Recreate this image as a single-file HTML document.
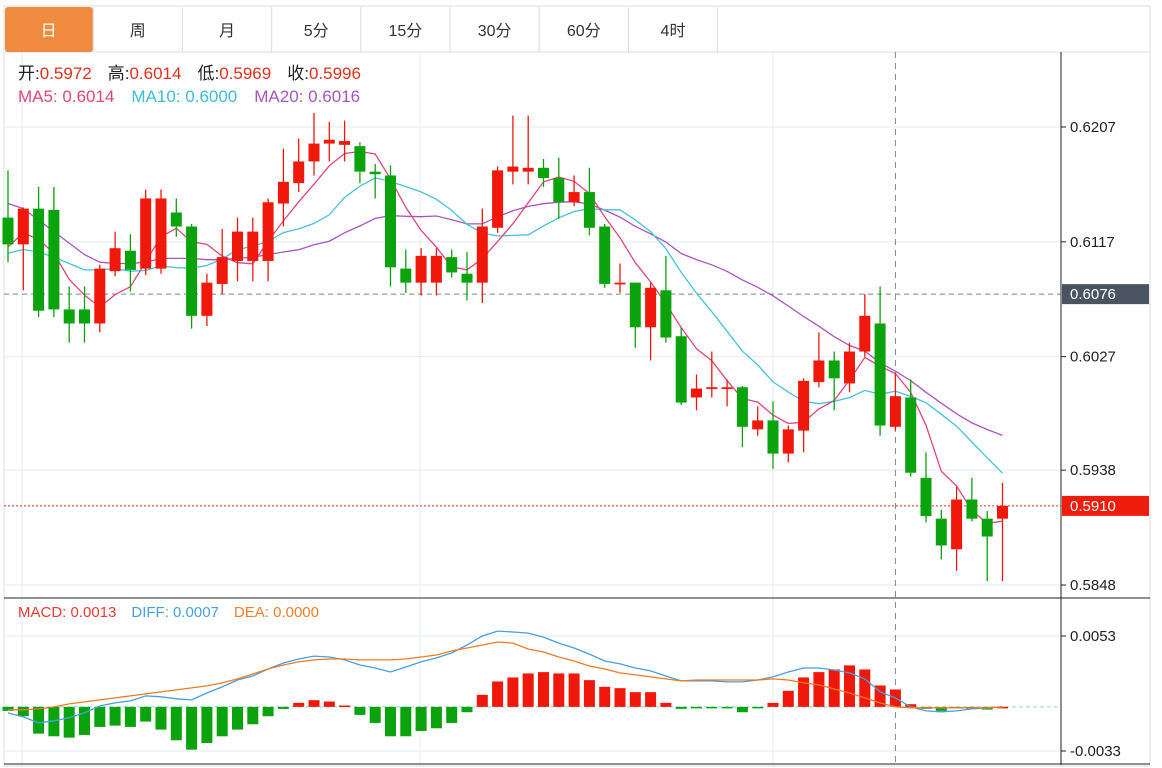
<!DOCTYPE html>
<html><head><meta charset="utf-8">
<style>
html,body{margin:0;padding:0;background:#fff;width:1162px;height:768px;overflow:hidden;}
body{font-family:"Liberation Sans","Noto Sans CJK SC",sans-serif;}
svg{position:absolute;left:0;top:0;}
</style></head>
<body>
<svg id="chart" width="1162" height="768" viewBox="0 0 1162 768">
  <rect x="4" y="6" width="1146" height="760" fill="none" stroke="#dcdcdc"/>
  <line x1="4" y1="52" x2="1150" y2="52" stroke="#dcdcdc"/>
  <g id="tabs"></g>
  <g id="grid"></g>
  <g id="ma"></g>
  <g id="candles"></g>
  <g id="macd"></g>
  <g id="axes"></g>
  <text x="18" y="79" font-size="17"><tspan fill="#222">开:</tspan><tspan fill="#e0301e">0.5972</tspan><tspan fill="#222" dx="16">高:</tspan><tspan fill="#e0301e">0.6014</tspan><tspan fill="#222" dx="16">低:</tspan><tspan fill="#e0301e">0.5969</tspan><tspan fill="#222" dx="16">收:</tspan><tspan fill="#e0301e">0.5996</tspan></text>
  <text x="18" y="102" font-size="17"><tspan fill="#e0457b">MA5: 0.6014</tspan><tspan fill="#40bcd4" dx="17">MA10: 0.6000</tspan><tspan fill="#a855c0" dx="17">MA20: 0.6016</tspan></text>
  <text x="18" y="617" font-size="15"><tspan fill="#e53c2e">MACD: 0.0013</tspan><tspan fill="#4a9ee0" dx="15">DIFF: 0.0007</tspan><tspan fill="#ef7d27" dx="15">DEA: 0.0000</tspan></text>
</svg>
<script>
const opens=[0.6136,0.6115,0.6143,0.6142,0.6064,0.6064,0.6053,0.6094,0.6110,0.6096,0.6096,0.6140,0.6129,0.6059,0.6084,0.6102,0.6102,0.6102,0.6147,0.6163,0.6180,0.6194,0.6193,0.6192,0.6172,0.6169,0.6096,0.6085,0.6085,0.6105,0.6092,0.6085,0.6128,0.6172,0.6172,0.6175,0.6167,0.6148,0.6156,0.6129,0.6084,0.6085,0.6050,0.6079,0.6043,0.5995,0.6002,0.6002,0.6003,0.5970,0.5977,0.5951,0.5969,0.6007,0.6024,0.6006,0.6031,0.6053,0.5972,0.5995,0.5932,0.5900,0.5876,0.5915,0.5900,0.5900];
const highs=[0.6173,0.6144,0.6160,0.6160,0.6082,0.6082,0.6099,0.6125,0.6123,0.6158,0.6158,0.6151,0.6131,0.6092,0.6127,0.6136,0.6136,0.6151,0.6190,0.6198,0.6218,0.6211,0.6212,0.6195,0.6178,0.6177,0.6111,0.6112,0.6112,0.6111,0.6109,0.6143,0.6176,0.6216,0.6216,0.6182,0.6183,0.6169,0.6175,0.6131,0.6100,0.6085,0.6085,0.6106,0.6050,0.6013,0.6031,0.6009,0.6004,0.5988,0.5992,0.5973,0.6010,0.6046,0.6031,0.6038,0.6076,0.6082,0.6014,0.6009,0.5952,0.5907,0.5925,0.5932,0.5906,0.5928];
const lows=[0.6101,0.6079,0.6058,0.6058,0.6038,0.6038,0.6046,0.6090,0.6078,0.6091,0.6092,0.6121,0.6049,0.6051,0.6076,0.6086,0.6086,0.6086,0.6129,0.6156,0.6169,0.6180,0.6180,0.6163,0.6151,0.6082,0.6077,0.6075,0.6075,0.6089,0.6071,0.6069,0.6124,0.6162,0.6162,0.6160,0.6135,0.6145,0.6122,0.6081,0.6077,0.6034,0.6024,0.6038,0.5989,0.5985,0.5995,0.5988,0.5956,0.5965,0.5939,0.5944,0.5952,0.6003,0.5985,0.5999,0.6027,0.5965,0.5969,0.5933,0.5897,0.5868,0.5859,0.5898,0.5851,0.5851];
const closes=[0.6115,0.6143,0.6063,0.6064,0.6053,0.6053,0.6096,0.6112,0.6095,0.6151,0.6151,0.6129,0.6059,0.6085,0.6105,0.6125,0.6125,0.6148,0.6164,0.6180,0.6194,0.6197,0.6196,0.6172,0.6170,0.6097,0.6085,0.6106,0.6106,0.6093,0.6085,0.6129,0.6173,0.6176,0.6175,0.6167,0.6148,0.6156,0.6128,0.6084,0.6085,0.6050,0.6081,0.6042,0.5991,0.6002,0.6003,0.6003,0.5972,0.5977,0.5951,0.5970,0.6008,0.6024,0.6010,0.6031,0.6059,0.5973,0.5996,0.5936,0.5902,0.5879,0.5915,0.5900,0.5886,0.5910];
const ma5Head=[0.6113,0.6124,0.6119,0.6108];
const ma10Head=[0.6108,0.6111,0.6109,0.6105,0.6100,0.6095,0.6095,0.6096,0.6094];
const ma20Head=[0.6147,0.6143,0.6134,0.6125,0.6116,0.6107,0.6101,0.6100,0.6100,0.6101,0.6104,0.6104,0.6104,0.6103,0.6103,0.6104,0.6105,0.6107,0.6109];
const macdHist=[-0.0003,-0.0007,-0.0020,-0.0022,-0.0023,-0.0021,-0.0015,-0.0014,-0.0015,-0.0011,-0.0017,-0.0025,-0.0032,-0.0027,-0.0022,-0.0017,-0.0013,-0.0007,-0.00015,0.0003,0.0005,0.0004,0.0001,-0.0006,-0.0012,-0.0022,-0.0022,-0.0018,-0.0016,-0.0012,-0.0004,0.0009,0.0019,0.0022,0.0025,0.0026,0.0025,0.0025,0.0020,0.0015,0.0014,0.0011,0.0011,0.0003,-0.00015,-0.0001,-0.0001,-0.0001,-0.0004,-0.00004,0.0003,0.0012,0.0022,0.0026,0.0028,0.0031,0.0028,0.0016,0.0013,0.0002,-0.00015,-0.0003,-0.0001,-0.00015,-0.0002,0];
const diffVals=[-0.00045,-0.00075,-0.0012,-0.00104,-0.00082,-0.00045,0.00007,0.0003,0.00045,0.00082,0.00075,0.0006,0.00052,0.00104,0.00149,0.00201,0.00231,0.00283,0.00328,0.00358,0.0038,0.00373,0.00351,0.00313,0.00291,0.00261,0.00298,0.00336,0.00366,0.00403,0.00463,0.0053,0.00567,0.0056,0.00552,0.00522,0.00477,0.0044,0.00395,0.00343,0.00321,0.00291,0.00269,0.00231,0.00194,0.00194,0.00194,0.00187,0.00187,0.00201,0.00224,0.00261,0.00291,0.00291,0.00276,0.00254,0.00209,0.00112,0.00067,0,-0.0003,-0.00037,-0.0003,-0.00015,-0.00007,0];
const deaVals=[-0.00022,-0.00022,-0.00015,0,0.00022,0.00037,0.00052,0.00067,0.00082,0.00097,0.00112,0.00127,0.00142,0.00157,0.00179,0.00209,0.00246,0.00283,0.00313,0.00336,0.00351,0.00358,0.00358,0.00351,0.00351,0.00351,0.00358,0.00373,0.00388,0.00418,0.0044,0.00463,0.00485,0.00477,0.00433,0.0041,0.00373,0.00343,0.00306,0.00283,0.00254,0.00239,0.00224,0.00209,0.00194,0.00201,0.00201,0.00201,0.00201,0.00201,0.00209,0.00201,0.00179,0.00164,0.00134,0.00104,0.00067,0.0003,0,-0.00007,-0.00007,-0.00007,-0.00007,-0.00007,-0.00007,0];
const priceTicks=["0.6207","0.6117","0.6027","0.5938","0.5848"];
const macdTicks=["0.0053","-0.0033"];
const tabLabels=["日","周","月","5分","15分","30分","60分","4时"];
const lastPrice=0.5910, crossPrice=0.6076, crossIndex=58;

const NS="http://www.w3.org/2000/svg";
function mk(tag,attrs,parent){const e=document.createElementNS(NS,tag);for(const k in attrs)e.setAttribute(k,attrs[k]);parent.appendChild(e);return e;}
const RED="#f0180a",GREEN="#0aa30e";
const xOf=i=>8+i*15.3;
const pTop=+priceTicks[0],pBot=+priceTicks[priceTicks.length-1];
const yP=p=>127+(pTop-p)/(pTop-pBot)*458;
const mTop=+macdTicks[0],mBot=+macdTicks[1];
const yM=v=>636+(mTop-v)/(mTop-mBot)*115;

const tabs=document.getElementById('tabs');
tabLabels.forEach((t,i)=>{
  const x=4+i*89.2;
  const g=mk('g',{},tabs);
  
  
  if(i===0){mk('rect',{x:x+1,y:7,width:88,height:45,rx:3,fill:"#f08a3e"},g);}
  mk('line',{x1:x+89.2,y1:7,x2:x+89.2,y2:52,stroke:"#dcdcdc"},g);
  const tx=mk('text',{x:x+44.6,y:36,'font-size':16,'text-anchor':'middle',fill:i===0?"#fff":"#333"},g);
  tx.textContent=t;
});

const grid=document.getElementById('grid');
priceTicks.forEach(t=>{mk('line',{x1:4,x2:1061,y1:yP(+t),y2:yP(+t),stroke:"#e4ebf2"},grid);});
macdTicks.forEach(t=>{mk('line',{x1:4,x2:1061,y1:yM(+t),y2:yM(+t),stroke:"#e4ebf2"},grid);});
[22,420,773].forEach(x=>{mk('line',{x1:x,x2:x,y1:52,y2:764,stroke:"#e4ebf2"},grid);});
mk('line',{x1:4,x2:1061,y1:yP(crossPrice),y2:yP(crossPrice),stroke:"#7a8490","stroke-dasharray":"5,4"},grid);
mk('line',{x1:4,x2:1061,y1:yP(lastPrice),y2:yP(lastPrice),stroke:"#e0301e","stroke-dasharray":"2,2"},grid);
mk('line',{x1:4,x2:1061,y1:yM(0),y2:yM(0),stroke:"#8fd0ea","stroke-dasharray":"4,3"},grid);
mk('line',{x1:xOf(crossIndex),x2:xOf(crossIndex),y1:52,y2:764,stroke:"#7a8490","stroke-dasharray":"6,5"},grid);

function ma(n,head){return closes.map((c,i)=>{if(i<n-1)return head[i];let s=0;for(let k=i-n+1;k<=i;k++)s+=closes[k];return s/n;});}
const maG=document.getElementById('ma');
[[ma(20,ma20Head),"#a855c0",'ma20-line'],[ma(10,ma10Head),"#45c2d9",'ma10-line'],[ma(5,ma5Head),"#e0457b",'ma5-line']].forEach(([vals,col,name])=>{
  const pl=mk('polyline',{points:vals.map((v,i)=>xOf(i).toFixed(1)+","+yP(v).toFixed(1)).join(" "),fill:"none",stroke:col,"stroke-width":1.3},maG);
  
  
});

const cg=document.getElementById('candles');
closes.forEach((c,i)=>{
  const o=opens[i],up=c>=o,col=up?RED:GREEN,x=xOf(i);
  const g=mk('g',{},cg);
  
  
  mk('line',{x1:x,x2:x,y1:yP(highs[i]),y2:yP(lows[i]),stroke:col,"stroke-width":1.3},g);
  const t=yP(Math.max(o,c)),b=yP(Math.min(o,c));
  mk('rect',{x:x-5.5,y:t,width:11,height:Math.max(b-t,1.8),fill:col},g);
});

const mg=document.getElementById('macd');
macdHist.forEach((v,i)=>{
  const y0=yM(0),y1=yM(v),x=xOf(i);
  const r=mk('rect',{x:x-5.5,y:Math.min(y0,y1),width:11,height:Math.max(Math.abs(y1-y0),1.5),fill:v>=0?RED:GREEN},mg);
  
  
});
[[diffVals,"#4a9ee0",'diff-line'],[deaVals,"#f07a22",'dea-line']].forEach(([vals,col,name])=>{
  const pl=mk('polyline',{points:vals.map((v,i)=>xOf(i).toFixed(1)+","+yM(v).toFixed(1)).join(" "),fill:"none",stroke:col,"stroke-width":1.3},mg);
  
  
});

const ax=document.getElementById('axes');
mk('rect',{x:1061,y:53,width:88,height:712,fill:"#fff"},ax);
mk('line',{x1:1061,x2:1061,y1:52,y2:765,stroke:"#222"},ax);
mk('line',{x1:4,x2:1150,y1:598,y2:598,stroke:"#222"},ax);
mk('line',{x1:4,x2:1150,y1:764,y2:764,stroke:"#222"},ax);
function tickLabel(y,txt,name){
  mk('line',{x1:1061,x2:1066,y1:y,y2:y,stroke:"#222"},ax);
  const t=mk('text',{x:1070,y:y+5,'font-size':15,fill:"#222"},ax);
  t.textContent=txt;
  
  
}
priceTicks.forEach(t=>tickLabel(yP(+t),t,'price-tick-label'));
macdTicks.forEach(t=>tickLabel(yM(+t),t,'macd-tick-label'));
function tag(p,bg,name){
  const y=yP(p);
  const g=mk('g',{},ax);
  
  
  mk('rect',{x:1062,y:y-10,width:87,height:20,fill:bg},g);
  const t=mk('text',{x:1070,y:y+5,'font-size':15,fill:"#fff"},g);
  t.textContent=p.toFixed(4);
}
tag(crossPrice,"#4a5360",'crosshair-price-tag');
tag(lastPrice,"#ee1c0c",'last-price-tag');
</script>
</body></html>
